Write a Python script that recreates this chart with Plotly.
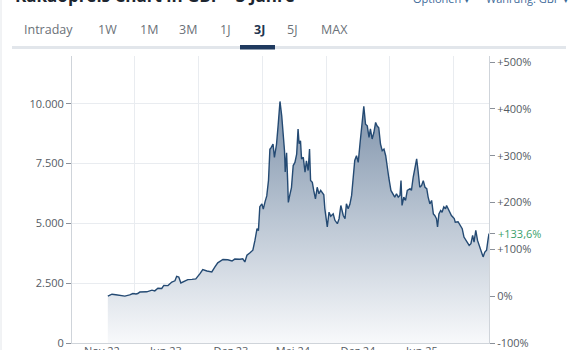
import plotly.graph_objects as go

# ---------------- data ----------------
dates = [
    "2022-10-24","2022-10-30","2022-11-05","2022-11-16","2022-11-28","2022-12-12","2022-12-26","2023-01-04","2023-01-13","2023-01-18",
    "2023-01-24","2023-02-05","2023-02-13","2023-02-28","2023-03-08","2023-03-17","2023-03-28","2023-04-03","2023-04-15","2023-04-26",
    "2023-05-05","2023-05-10","2023-05-16","2023-05-22","2023-06-02","2023-06-11","2023-06-23","2023-07-04","2023-07-16","2023-07-24",
    "2023-08-05","2023-08-19","2023-08-28","2023-09-05","2023-09-20","2023-10-04","2023-10-16","2023-10-24","2023-11-08","2023-11-16",
    "2023-11-22","2023-11-28","2023-12-06","2023-12-15","2023-12-21","2023-12-27","2023-12-31","2024-01-04","2024-01-10","2024-01-14",
    "2024-01-19","2024-01-24","2024-01-29","2024-02-02","2024-02-06","2024-02-11","2024-02-15","2024-02-21","2024-02-26","2024-03-02",
    "2024-03-07","2024-03-11","2024-03-15","2024-03-17","2024-03-21","2024-03-24","2024-03-26","2024-03-30","2024-04-04","2024-04-09",
    "2024-04-14","2024-04-19","2024-04-23","2024-04-26","2024-04-30","2024-05-03","2024-05-08","2024-05-13","2024-05-17","2024-05-22",
    "2024-05-26","2024-05-29","2024-06-03","2024-06-07","2024-06-12","2024-06-17","2024-06-22","2024-06-27","2024-07-02","2024-07-06",
    "2024-07-09","2024-07-16","2024-07-21","2024-07-26","2024-08-02","2024-08-07","2024-08-14","2024-08-19","2024-08-24","2024-08-31",
    "2024-09-05","2024-09-09","2024-09-14","2024-09-19","2024-09-24","2024-09-28","2024-10-03","2024-10-08","2024-10-13","2024-10-18",
    "2024-10-23","2024-10-26","2024-10-29","2024-11-03","2024-11-08","2024-11-13","2024-11-17","2024-11-22","2024-11-27","2024-12-02",
    "2024-12-06","2024-12-11","2024-12-16","2024-12-21","2024-12-26","2024-12-31","2025-01-04","2025-01-09","2025-01-15","2025-01-21",
    "2025-01-26","2025-01-31","2025-02-05","2025-02-10","2025-02-13","2025-02-16","2025-02-21","2025-02-26","2025-03-03","2025-03-11",
    "2025-03-15","2025-03-20","2025-03-25","2025-03-30","2025-04-03","2025-04-08","2025-04-13","2025-04-18","2025-04-23","2025-04-28",
    "2025-05-02","2025-05-07","2025-05-12","2025-05-17","2025-05-21","2025-05-26","2025-05-29","2025-06-02","2025-06-07","2025-06-11",
    "2025-06-16","2025-06-21","2025-06-24","2025-06-29","2025-07-04","2025-07-08","2025-07-16","2025-07-19","2025-07-27","2025-08-01",
    "2025-08-08","2025-08-13","2025-08-21","2025-08-28","2025-09-02","2025-09-07","2025-09-11","2025-09-16","2025-09-21","2025-09-26",
    "2025-10-01","2025-10-07","2025-10-12","2025-10-17","2025-10-21","2025-10-24",
]
prices = [
    1958,2000,2040,2020,2000,1960,2010,2070,2050,2070,
    2130,2120,2140,2210,2180,2290,2280,2410,2400,2550,
    2600,2790,2760,2510,2600,2650,2660,2680,2900,3070,
    3010,2970,3180,3350,3490,3480,3430,3510,3500,3520,
    3390,3670,3760,3880,4290,4780,4700,5700,5820,5600,
    5900,6150,6800,8100,8180,8320,7760,8300,9150,10100,
    9500,8880,8040,7150,7950,6800,5880,6170,6500,7420,
    7550,7900,8950,8330,8460,7700,7760,7140,7620,7210,
    8110,6800,6720,6380,6030,6510,6240,6380,6300,6200,
    5620,4850,5470,5300,5400,5130,4990,5200,5750,5330,
    5200,5820,5610,5800,6170,7000,7630,7830,7550,8320,
    9010,9360,9900,9150,9080,8600,8950,8530,8800,9220,
    9080,9000,8320,8040,8110,7830,7350,6900,6380,6240,
    6100,6240,6100,6170,6790,5750,6100,5960,6380,6450,
    6380,6930,7350,7700,7210,6510,6580,6790,6510,6450,
    6100,5820,5960,5400,5330,5200,4850,5400,5540,5470,
    5690,5610,5750,5610,5470,5330,5200,5050,5070,4920,
    4780,4430,4220,4080,4150,4500,4220,4710,4290,4080,
    3880,3600,3800,3880,4300,4574,
]
n = min(len(dates), len(prices))
dates, prices = dates[:n], prices[:n]

x_range = ["2022-07-13", "2025-10-24"]
grid_dates = ["2023-01-10", "2023-07-12", "2024-01-12", "2024-07-13", "2025-01-10", "2025-07-14"]
label_dates = ["2022-10-07", "2023-04-09", "2023-10-13", "2024-04-08", "2024-10-12", "2025-04-14"]
label_texts = ["Nov 22", "Jun 23", "Dez 23", "Mai 24", "Dez 24", "Jun 25"]
price_ticks = [0, 2500, 5000, 7500, 10000]
price_max = 12000
pct_ticks = [-100, 0, 100, 200, 300, 400, 500]
tabs = ["Intraday", "1W", "1M", "3M", "1J", "3J", "5J", "MAX"]
active_tab = "3J"

base = prices[0]
pct = [(p / base - 1) * 100 for p in prices]
last_pct = pct[-1]
pct_range = [-100, price_max / base * 100 - 100]

FONT = "Open Sans"
W, H = 570, 350
L, R, T, B = 72, 81, 56, 7
PW, PH = W - L - R, H - T - B


def px(xp):
    return (xp - L) / PW


def py(yp):
    return (H - B - yp) / PH


fig = go.Figure()
fig.add_trace(go.Scatter(
    x=dates, y=prices, mode="lines",
    line=dict(color="#244a73", width=1.4),
    fill="tozeroy",
    fillgradient=dict(type="vertical", start=0, stop=10100,
                      colorscale=[[0, "rgba(248,249,251,1)"], [0.5, "rgba(188,199,212,1)"], [1, "rgba(126,146,170,1)"]]),
    hoverinfo="skip", showlegend=False,
))
# invisible companion on the percentage axis (keeps x2 / y2 drawn)
fig.add_trace(go.Scatter(
    x=dates, y=pct, xaxis="x2", yaxis="y2", mode="lines",
    line=dict(width=0, color="rgba(0,0,0,0)"), hoverinfo="skip", showlegend=False,
))

tick_font = dict(family=FONT, size=11, color="#555b63")
axis_line = "#cfd4da"
grid_col = "#e9ecf0"

fig.update_layout(
    template="none",
    width=W, height=H,
    margin=dict(l=L, r=R, t=T, b=B, autoexpand=False),
    paper_bgcolor="white", plot_bgcolor="white",
    separators=",.",
    font=dict(family=FONT),
    xaxis=dict(type="date", range=x_range, tickmode="array", tickvals=grid_dates, automargin=False,
               showticklabels=False, showgrid=True, gridcolor=grid_col, gridwidth=1,
               showline=True, linecolor=axis_line, linewidth=1, ticks="", zeroline=False),
    xaxis2=dict(type="date", range=x_range, overlaying="x", anchor="y", side="bottom", automargin=False,
                tickmode="array", tickvals=label_dates, ticktext=label_texts,
                showgrid=False, showline=False, ticks="", tickfont=tick_font, zeroline=False),
    yaxis=dict(range=[0, price_max], tickmode="array", tickvals=price_ticks, tickformat=",d", automargin=False,
               showgrid=True, gridcolor=grid_col, gridwidth=1, zeroline=False,
               showline=True, linecolor=axis_line, linewidth=1,
               ticks="outside", ticklen=5, tickcolor="#8a9099", tickfont=tick_font),
    yaxis2=dict(range=pct_range, overlaying="y", side="right", anchor="x", automargin=False,
                tickmode="array", tickvals=pct_ticks + [last_pct],
                ticktext=[("+" if v > 0 else "") + f"{v}%" for v in pct_ticks] + [""],
                showgrid=False, zeroline=False, showline=True, linecolor=axis_line, linewidth=1,
                ticks="outside", ticklen=5, tickcolor="#8a9099", tickfont=tick_font),
)

# current change label on the right axis
fig.add_annotation(xref="paper", yref="y2", x=1, y=last_pct, xanchor="left", yanchor="middle",
                   xshift=7, showarrow=False,
                   text=("+" if last_pct > 0 else "") + f"{last_pct:.1f}".replace(".", ",") + "%",
                   font=dict(family=FONT, size=11, color="#3a9f6b"))

# page header (title clipped at top)
fig.add_annotation(xref="paper", yref="paper", x=px(13), y=py(9), xanchor="left", yanchor="bottom",
                   showarrow=False, text="<b>Kakaopreis Chart in GBP - 3 Jahre</b>",
                   font=dict(family=FONT, size=17, color="#1d2630"))
fig.add_annotation(xref="paper", yref="paper", x=px(411), y=py(8), xanchor="left", yanchor="bottom",
                   showarrow=False, text="Optionen ▾", font=dict(family=FONT, size=11, color="#3d6a99"))
fig.add_annotation(xref="paper", yref="paper", x=px(484), y=py(8), xanchor="left", yanchor="bottom",
                   showarrow=False, text="Währung: GBP ▾", font=dict(family=FONT, size=11, color="#3d6a99"))

# tabs
tab_x = [22, 96, 138, 177, 218, 252, 285, 319]
for t, xp in zip(tabs, tab_x):
    active = t == active_tab
    fig.add_annotation(xref="paper", yref="paper", x=px(xp), y=py(29), xanchor="left", yanchor="middle",
                       showarrow=False, text=f"<b>{t}</b>" if active else t,
                       font=dict(family=FONT, size=12.5, color="#1f3550" if active else "#6b7178"))

fig.add_shape(type="rect", xref="paper", yref="paper", x0=px(12), x1=px(566), y0=py(49), y1=py(46),
              fillcolor="#e2e6eb", line=dict(width=0), layer="above")
fig.add_shape(type="rect", xref="paper", yref="paper", x0=px(240), x1=px(275), y0=py(49.5), y1=py(45),
              fillcolor="#1f3a5f", line=dict(width=0), layer="above")
fig.add_shape(type="line", xref="paper", yref="paper", x0=px(1), x1=px(1), y0=py(0), y1=py(350),
              line=dict(color="#e3e6ea", width=1))

fig.write_html("out.html")
